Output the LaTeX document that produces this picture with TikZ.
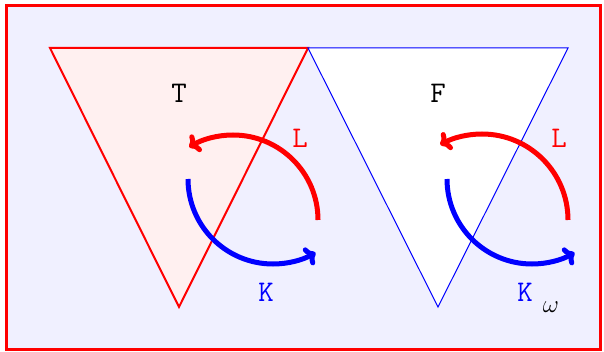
\documentclass[tikz,border=0pt]{standalone}
\usetikzlibrary{arrows.meta}
\definecolor{bgc}{RGB}{240,240,255}
\definecolor{pinkc}{RGB}{255,240,240}
\tikzset{
  lbl/.style={inner sep=0pt, font=\fontsize{30}{34}\selectfont\ttfamily},
  redarc/.style={draw=red, line width=5pt, line cap=butt, -{To[length=10pt,width=20pt]}},
  bluearc/.style={draw=blue, line width=5pt, line cap=butt, -{To[length=10pt,width=20pt]}},
}
\begin{document}
\begin{tikzpicture}[x=1pt,y=-1pt]
\useasboundingbox (0,0) rectangle (604,352);
\draw[red, line width=3pt, fill=bgc] (6,6) rectangle (600,349);
% left triangle
\coordinate (A1) at (50,48);
\coordinate (A2) at (308,48);
\coordinate (A3) at (179,307);
\draw[red, line width=2pt, fill=pinkc, line join=miter] (A1) -- (A2) -- (A3) -- cycle;
% right triangle
\coordinate (B1) at (308,48);
\coordinate (B2) at (568,48);
\coordinate (B3) at (438,307);
\draw[blue, line width=1pt, fill=white] (B1) -- (B2) -- (B3) -- cycle;
% labels
\node[lbl] (T) at (179,93) {T};
\node[lbl] (F) at (438,93) {F};
\node[lbl, text=red] (L1) at (300,138) {L};
\node[lbl, text=blue] (K1) at (266,292) {K};
\node[lbl, text=red] (L2) at (559,138) {L};
\node[lbl, text=blue] (K2) at (525,292) {K};
\node[inner sep=0pt, font=\fontsize{42}{46}\selectfont] (W) at (551,307) {$\omega$};
% arcs left
\coordinate (r1s) at (318,220);
\coordinate (b1s) at (188,179);
\draw[redarc] (r1s) arc[start angle=0, end angle=-121, radius=85];
\draw[bluearc] (b1s) arc[start angle=180, end angle=60, radius=85];
% arcs right
\coordinate (r2s) at (568,220);
\coordinate (b2s) at (447,179);
\draw[redarc] (r2s) arc[start angle=0, end angle=-119, radius=86];
\draw[bluearc] (b2s) arc[start angle=180, end angle=60, radius=85];
\end{tikzpicture}
\end{document}
